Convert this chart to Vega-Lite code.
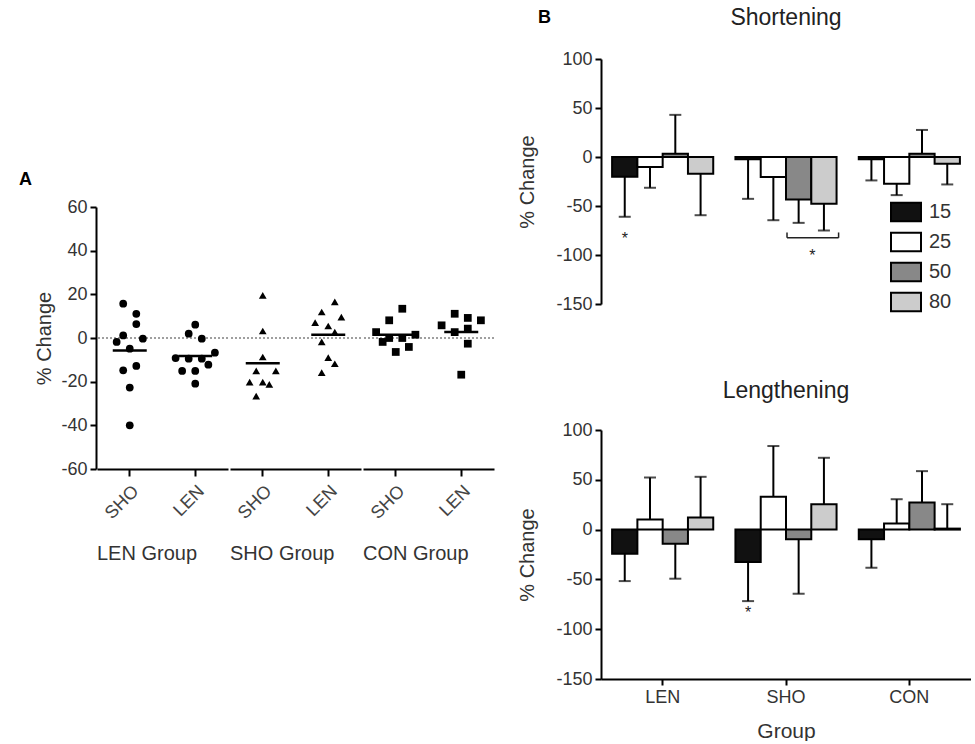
{
  "$schema": "https://vega.github.io/schema/vega-lite/v6.json",
  "background": "white",
  "padding": {"left": 18, "top": 7, "right": 0, "bottom": 0},
  "config": {
    "font": "Liberation Sans",
    "view": {"stroke": null},
    "axis": {"domainColor": "#000", "domainWidth": 2, "tickColor": "#000", "tickWidth": 2, "tickSize": 6, "labelColor": "#333", "labelFontSize": 18, "titleColor": "#333", "titleFontSize": 20, "titleFontWeight": "normal", "grid": false},
    "title": {"fontWeight": "normal", "color": "#222"}
  },
  "datasets": {
    "scatter": [
      {"grp": "LEN Group", "cond": "SHO", "slot": -1, "v": 15.7},
      {"grp": "LEN Group", "cond": "SHO", "slot": 1, "v": 11.1},
      {"grp": "LEN Group", "cond": "SHO", "slot": 1, "v": 6.4},
      {"grp": "LEN Group", "cond": "SHO", "slot": -1, "v": 1.2},
      {"grp": "LEN Group", "cond": "SHO", "slot": -2, "v": -1.8},
      {"grp": "LEN Group", "cond": "SHO", "slot": 2, "v": -0.3},
      {"grp": "LEN Group", "cond": "SHO", "slot": 0, "v": -4.9},
      {"grp": "LEN Group", "cond": "SHO", "slot": -1, "v": -14.8},
      {"grp": "LEN Group", "cond": "SHO", "slot": 1, "v": -12.8},
      {"grp": "LEN Group", "cond": "SHO", "slot": 0, "v": -22.7},
      {"grp": "LEN Group", "cond": "SHO", "slot": 0, "v": -40},
      {"grp": "LEN Group", "cond": "LEN", "slot": 0, "v": 6.1},
      {"grp": "LEN Group", "cond": "LEN", "slot": -1, "v": 2.0},
      {"grp": "LEN Group", "cond": "LEN", "slot": 1, "v": -0.3},
      {"grp": "LEN Group", "cond": "LEN", "slot": 3, "v": -6.7},
      {"grp": "LEN Group", "cond": "LEN", "slot": -3, "v": -9.2},
      {"grp": "LEN Group", "cond": "LEN", "slot": -1, "v": -9.5},
      {"grp": "LEN Group", "cond": "LEN", "slot": 1, "v": -9.5},
      {"grp": "LEN Group", "cond": "LEN", "slot": 2, "v": -12.2},
      {"grp": "LEN Group", "cond": "LEN", "slot": -2, "v": -15.1},
      {"grp": "LEN Group", "cond": "LEN", "slot": 0, "v": -15.1},
      {"grp": "LEN Group", "cond": "LEN", "slot": 0, "v": -20.9},
      {"grp": "SHO Group", "cond": "SHO", "slot": 0, "v": 19.5},
      {"grp": "SHO Group", "cond": "SHO", "slot": 0, "v": 3.2},
      {"grp": "SHO Group", "cond": "SHO", "slot": 0, "v": -8.7},
      {"grp": "SHO Group", "cond": "SHO", "slot": -1, "v": -15.1},
      {"grp": "SHO Group", "cond": "SHO", "slot": 2, "v": -15.1},
      {"grp": "SHO Group", "cond": "SHO", "slot": -2, "v": -20.2},
      {"grp": "SHO Group", "cond": "SHO", "slot": 0, "v": -20.2},
      {"grp": "SHO Group", "cond": "SHO", "slot": 1, "v": -21.2},
      {"grp": "SHO Group", "cond": "SHO", "slot": -1, "v": -26.6},
      {"grp": "SHO Group", "cond": "LEN", "slot": 1, "v": 16.5},
      {"grp": "SHO Group", "cond": "LEN", "slot": -1, "v": 11.9},
      {"grp": "SHO Group", "cond": "LEN", "slot": 2, "v": 9.6},
      {"grp": "SHO Group", "cond": "LEN", "slot": -2, "v": 7.0},
      {"grp": "SHO Group", "cond": "LEN", "slot": 0, "v": 5.5},
      {"grp": "SHO Group", "cond": "LEN", "slot": 1, "v": 2.7},
      {"grp": "SHO Group", "cond": "LEN", "slot": -1, "v": -1.8},
      {"grp": "SHO Group", "cond": "LEN", "slot": 0, "v": -9.0},
      {"grp": "SHO Group", "cond": "LEN", "slot": 1, "v": -11.8},
      {"grp": "SHO Group", "cond": "LEN", "slot": -1, "v": -15.9},
      {"grp": "CON Group", "cond": "SHO", "slot": 1, "v": 13.4},
      {"grp": "CON Group", "cond": "SHO", "slot": -1, "v": 8.1},
      {"grp": "CON Group", "cond": "SHO", "slot": -3, "v": 2.7},
      {"grp": "CON Group", "cond": "SHO", "slot": 3, "v": 1.5},
      {"grp": "CON Group", "cond": "SHO", "slot": -1, "v": 0},
      {"grp": "CON Group", "cond": "SHO", "slot": 1, "v": 0},
      {"grp": "CON Group", "cond": "SHO", "slot": -2, "v": -1.8},
      {"grp": "CON Group", "cond": "SHO", "slot": 2, "v": -4.1},
      {"grp": "CON Group", "cond": "SHO", "slot": 0, "v": -6.4},
      {"grp": "CON Group", "cond": "LEN", "slot": -1, "v": 11.1},
      {"grp": "CON Group", "cond": "LEN", "slot": 1, "v": 9.2},
      {"grp": "CON Group", "cond": "LEN", "slot": 3, "v": 8.1},
      {"grp": "CON Group", "cond": "LEN", "slot": -3, "v": 5.8},
      {"grp": "CON Group", "cond": "LEN", "slot": 1, "v": 4.3},
      {"grp": "CON Group", "cond": "LEN", "slot": -1, "v": 2.7},
      {"grp": "CON Group", "cond": "LEN", "slot": 1, "v": -2.6},
      {"grp": "CON Group", "cond": "LEN", "slot": 0, "v": -16.8}
    ],
    "bars": [
      {"panel": "Shortening", "group": "LEN", "intensity": "15", "value": -20.1, "err": -61},
      {"panel": "Shortening", "group": "LEN", "intensity": "25", "value": -10.2, "err": -31.4},
      {"panel": "Shortening", "group": "LEN", "intensity": "50", "value": 3.4, "err": 43},
      {"panel": "Shortening", "group": "LEN", "intensity": "80", "value": -17, "err": -59.4},
      {"panel": "Shortening", "group": "SHO", "intensity": "15", "value": -2.4, "err": -42.7},
      {"panel": "Shortening", "group": "SHO", "intensity": "25", "value": -20.5, "err": -64.5},
      {"panel": "Shortening", "group": "SHO", "intensity": "50", "value": -43.3, "err": -67.2},
      {"panel": "Shortening", "group": "SHO", "intensity": "80", "value": -47.8, "err": -75},
      {"panel": "Shortening", "group": "CON", "intensity": "15", "value": -2.4, "err": -23.9},
      {"panel": "Shortening", "group": "CON", "intensity": "25", "value": -27.3, "err": -38.9},
      {"panel": "Shortening", "group": "CON", "intensity": "50", "value": 3.4, "err": 27.6},
      {"panel": "Shortening", "group": "CON", "intensity": "80", "value": -6.8, "err": -28},
      {"panel": "Lengthening", "group": "LEN", "intensity": "15", "value": -24.2, "err": -51.7},
      {"panel": "Lengthening", "group": "LEN", "intensity": "25", "value": 10.1, "err": 52.3},
      {"panel": "Lengthening", "group": "LEN", "intensity": "50", "value": -14.1, "err": -49.3},
      {"panel": "Lengthening", "group": "LEN", "intensity": "80", "value": 12.1, "err": 53},
      {"panel": "Lengthening", "group": "SHO", "intensity": "15", "value": -32.6, "err": -71.8},
      {"panel": "Lengthening", "group": "SHO", "intensity": "25", "value": 32.9, "err": 83.9},
      {"panel": "Lengthening", "group": "SHO", "intensity": "50", "value": -9.7, "err": -64.4},
      {"panel": "Lengthening", "group": "SHO", "intensity": "80", "value": 25.5, "err": 72.1},
      {"panel": "Lengthening", "group": "CON", "intensity": "15", "value": -9.7, "err": -38.3},
      {"panel": "Lengthening", "group": "CON", "intensity": "25", "value": 6.0, "err": 30.5},
      {"panel": "Lengthening", "group": "CON", "intensity": "50", "value": 27.2, "err": 58.7},
      {"panel": "Lengthening", "group": "CON", "intensity": "80", "value": 1.0, "err": 25.5}
    ]
  },
  "spacing": 22,
  "resolve": {"scale": {"xOffset": "independent", "fill": "independent", "shape": "independent"}, "legend": {"fill": "independent", "shape": "independent"}},
  "hconcat": [
    {
      "spacing": 0,
      "vconcat": [
        {
          "width": 390,
          "height": 112,
          "view": {"fill": "#ffffff", "stroke": null},
          "data": {"values": [{}]},
          "mark": {"type": "rule", "opacity": 0},
          "encoding": {}
        },
        {
          "title": {"text": "A", "anchor": "start", "fontWeight": "bold", "fontSize": 18, "color": "#000", "dx": -16, "offset": 9},
          "data": {"name": "scatter"},
          "facet": {
            "column": {
              "field": "grp",
              "type": "nominal",
              "sort": ["LEN Group", "SHO Group", "CON Group"],
              "header": {"title": null, "labelOrient": "bottom", "labelFontSize": 20, "labelColor": "#333", "labelPadding": 22, "labelAnchor": "start"}
            }
          },
          "spacing": 0,
          "spec": {
            "width": 131,
            "height": 262,
            "encoding": {
              "x": {"field": "cond", "type": "nominal", "sort": ["SHO", "LEN"], "scale": {"paddingInner": 0, "paddingOuter": 0}, "axis": {"title": null, "labelAngle": -45, "labelFontSize": 18, "labelColor": "#444", "labelPadding": 6, "tickSize": 7}}
            },
            "layer": [
              {
                "transform": [{"aggregate": [{"op": "count", "as": "n"}], "groupby": ["grp", "cond"]}],
                "mark": {"type": "rule", "color": "#999", "strokeDash": [2, 2], "strokeWidth": 1.5},
                "encoding": {"x": null, "y": {"datum": 0, "type": "quantitative"}}
              },
              {
                "mark": {"type": "point", "filled": true, "size": 60, "color": "#000", "opacity": 1},
                "encoding": {
                  "xOffset": {"field": "slot", "type": "ordinal", "scale": {"domain": [-5, -4, -3, -2, -1, 0, 1, 2, 3, 4, 5], "paddingInner": 0, "paddingOuter": 0}},
                  "y": {"field": "v", "type": "quantitative", "scale": {"domain": [-60, 60], "nice": false}, "axis": {"values": [-60, -40, -20, 0, 20, 40, 60], "labelExpr": "'' + datum.value", "title": "% Change", "titlePadding": 6, "labelPadding": 3}},
                  "shape": {"field": "grp", "type": "nominal", "scale": {"domain": ["LEN Group", "SHO Group", "CON Group"], "range": ["circle", "triangle-up", "square"]}, "legend": null}
                }
              },
              {
                "mark": {"type": "tick", "color": "#000", "size": 34, "thickness": 2.5},
                "encoding": {
                  "y": {"aggregate": "mean", "field": "v", "type": "quantitative"}
                }
              }
            ]
          }
        }
      ]
    },
    {
      "title": {"text": "B", "anchor": "start", "fontWeight": "bold", "fontSize": 18, "color": "#000", "offset": -20, "dx": 20},
      "spacing": 64,
      "resolve": {"scale": {"xOffset": "independent"}, "legend": {"fill": "independent"}},
      "vconcat": [
        {
          "width": 370,
          "height": 245,
          "title": {"text": "Shortening", "fontSize": 23, "offset": 20},
          "encoding": {
            "x": {"field": "group", "type": "nominal", "sort": ["LEN", "SHO", "CON"], "scale": {"paddingInner": 0.18, "paddingOuter": 0.09}, "axis": null},
            "y": {"field": "value", "type": "quantitative", "scale": {"domain": [-150, 100], "nice": false}, "axis": {"values": [-150, -100, -50, 0, 50, 100], "labelExpr": "'' + datum.value", "title": "% Change", "titlePadding": 18, "labelPadding": 3}}
          },
          "layer": [
            {
              "data": {"name": "bars"},
              "transform": [{"filter": "datum.panel === 'Shortening'"}],
              "mark": {"type": "rule", "color": "#000", "strokeWidth": 2},
              "encoding": {"xOffset": {"field": "intensity", "type": "nominal", "scale": {"domain": ["15", "25", "50", "80"], "paddingInner": 0, "paddingOuter": 0}}, "y2": {"field": "err"}}
            },
            {
              "data": {"name": "bars"},
              "transform": [{"filter": "datum.panel === 'Shortening'"}],
              "mark": {"type": "tick", "color": "#000", "size": 12, "thickness": 2},
              "encoding": {"xOffset": {"field": "intensity", "type": "nominal"}, "y": {"field": "err", "type": "quantitative"}}
            },
            {
              "data": {"name": "bars"},
              "transform": [{"filter": "datum.panel === 'Shortening'"}],
              "mark": {"type": "bar", "stroke": "#000", "strokeWidth": 2},
              "encoding": {
                "xOffset": {"field": "intensity", "type": "nominal"},
                "fill": {"field": "intensity", "type": "nominal", "scale": {"domain": ["15", "25", "50", "80"], "range": ["#111111", "#ffffff", "#888888", "#cccccc"]},
                  "legend": {"orient": "none", "legendX": 289, "legendY": 137, "title": null, "symbolType": "M-1,-0.62H1V0.62H-1Z", "symbolSize": 900, "symbolStrokeColor": "#000", "symbolStrokeWidth": 2, "symbolOpacity": 1, "labelFontSize": 20, "labelColor": "#333", "rowPadding": 0, "labelOffset": 7, "padding": 0}}
              }
            },
            {
              "data": {"values": [{}]},
              "mark": {"type": "rule", "color": "#000", "strokeWidth": 2},
              "encoding": {"x": null, "y": {"datum": 0, "type": "quantitative"}}
            },
            {
              "data": {"values": [{"group": "LEN", "intensity": "15", "value": -84}]},
              "mark": {"type": "text", "text": "*", "fontSize": 16, "color": "#222", "baseline": "middle"},
              "encoding": {"xOffset": {"field": "intensity", "type": "nominal"}}
            },
            {
              "data": {"values": [{"group": "SHO", "value": -82.5}]},
              "mark": {"type": "rule", "color": "#222", "strokeWidth": 1.5},
              "encoding": {"x": {"field": "group", "type": "nominal", "bandPosition": 0.51}, "x2": {"field": "group", "bandPosition": 1.02}}
            },
            {
              "data": {"values": [{"group": "SHO", "value": -82.5, "top": -77}]},
              "mark": {"type": "rule", "color": "#222", "strokeWidth": 1.5},
              "encoding": {"x": {"field": "group", "type": "nominal", "bandPosition": 0.51}, "y2": {"field": "top"}}
            },
            {
              "data": {"values": [{"group": "SHO", "value": -82.5, "top": -77}]},
              "mark": {"type": "rule", "color": "#222", "strokeWidth": 1.5},
              "encoding": {"x": {"field": "group", "type": "nominal", "bandPosition": 1.02}, "y2": {"field": "top"}}
            },
            {
              "data": {"values": [{"group": "SHO", "value": -101}]},
              "mark": {"type": "text", "text": "*", "fontSize": 16, "color": "#222", "baseline": "middle"},
              "encoding": {"x": {"field": "group", "type": "nominal", "bandPosition": 0.76}}
            }
          ]
        },
        {
          "width": 370,
          "height": 249,
          "title": {"text": "Lengthening", "fontSize": 23, "offset": 18},
          "encoding": {
            "x": {"field": "group", "type": "nominal", "sort": ["LEN", "SHO", "CON"], "scale": {"paddingInner": 0.18, "paddingOuter": 0.09}, "axis": {"title": "Group", "labelAngle": 0, "labelFontSize": 18, "titleFontSize": 21, "labelPadding": 3, "titlePadding": 14}},
            "y": {"field": "value", "type": "quantitative", "scale": {"domain": [-150, 100], "nice": false}, "axis": {"values": [-150, -100, -50, 0, 50, 100], "labelExpr": "'' + datum.value", "title": "% Change", "titlePadding": 18, "labelPadding": 3}}
          },
          "layer": [
            {
              "data": {"name": "bars"},
              "transform": [{"filter": "datum.panel === 'Lengthening'"}],
              "mark": {"type": "rule", "color": "#000", "strokeWidth": 2},
              "encoding": {"xOffset": {"field": "intensity", "type": "nominal", "scale": {"domain": ["15", "25", "50", "80"], "paddingInner": 0, "paddingOuter": 0}}, "y2": {"field": "err"}}
            },
            {
              "data": {"name": "bars"},
              "transform": [{"filter": "datum.panel === 'Lengthening'"}],
              "mark": {"type": "tick", "color": "#000", "size": 12, "thickness": 2},
              "encoding": {"xOffset": {"field": "intensity", "type": "nominal"}, "y": {"field": "err", "type": "quantitative"}}
            },
            {
              "data": {"name": "bars"},
              "transform": [{"filter": "datum.panel === 'Lengthening'"}],
              "mark": {"type": "bar", "stroke": "#000", "strokeWidth": 2},
              "encoding": {
                "xOffset": {"field": "intensity", "type": "nominal"},
                "fill": {"field": "intensity", "type": "nominal", "scale": {"domain": ["15", "25", "50", "80"], "range": ["#111111", "#ffffff", "#888888", "#cccccc"]}, "legend": null}
              }
            },
            {
              "data": {"values": [{}]},
              "mark": {"type": "rule", "color": "#000", "strokeWidth": 2},
              "encoding": {"x": null, "y": {"datum": 0, "type": "quantitative"}}
            },
            {
              "data": {"values": [{"group": "SHO", "intensity": "15", "value": -84}]},
              "mark": {"type": "text", "text": "*", "fontSize": 16, "color": "#222", "baseline": "middle"},
              "encoding": {"xOffset": {"field": "intensity", "type": "nominal"}}
            }
          ]
        }
      ]
    }
  ]
}
